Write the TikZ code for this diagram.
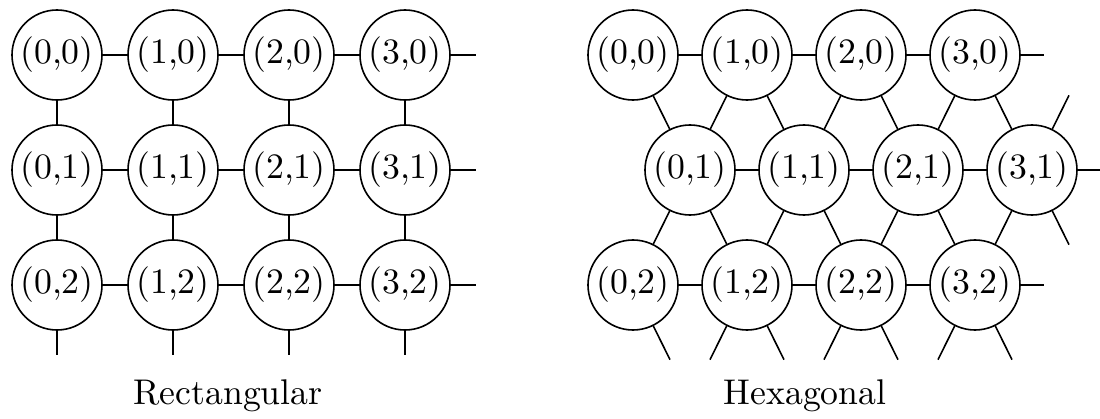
\documentclass[tikz,border=0pt]{standalone}
\usetikzlibrary{positioning}

\begin{document}
\begin{tikzpicture}[x=0.28pt, y=-0.28pt, line width=0.45pt]
\tikzset{pe/.style={draw, circle, minimum size=25.2pt, inner sep=0pt, font=\normalsize}, stub/.style={shorten >=12.6pt}, caption/.style={anchor=base, font=\normalsize}}
\useasboundingbox (0,0) rectangle (1100,419);
% rectangular mesh
\node[pe] (R00) at (57,55) {(0,0)}; \node[pe] (R10) at (173,55) {(1,0)}; \node[pe] (R20) at (289,55) {(2,0)}; \node[pe] (R30) at (405,55) {(3,0)};
\node[pe] (R01) at (57,170) {(0,1)}; \node[pe] (R11) at (173,170) {(1,1)}; \node[pe] (R21) at (289,170) {(2,1)}; \node[pe] (R31) at (405,170) {(3,1)};
\node[pe] (R02) at (57,285) {(0,2)}; \node[pe] (R12) at (173,285) {(1,2)}; \node[pe] (R22) at (289,285) {(2,2)}; \node[pe] (R32) at (405,285) {(3,2)};
\coordinate (R40) at (521,55); \coordinate (R41) at (521,170); \coordinate (R42) at (521,285);
\coordinate (R03) at (57,400); \coordinate (R13) at (173,400); \coordinate (R23) at (289,400); \coordinate (R33) at (405,400);
\draw (R00) -- (R10); \draw (R10) -- (R20); \draw (R20) -- (R30); \draw[stub] (R30) -- (R40);
\draw (R01) -- (R11); \draw (R11) -- (R21); \draw (R21) -- (R31); \draw[stub] (R31) -- (R41);
\draw (R02) -- (R12); \draw (R12) -- (R22); \draw (R22) -- (R32); \draw[stub] (R32) -- (R42);
\draw (R00) -- (R01); \draw (R01) -- (R02); \draw[stub] (R02) -- (R03);
\draw (R10) -- (R11); \draw (R11) -- (R12); \draw[stub] (R12) -- (R13);
\draw (R20) -- (R21); \draw (R21) -- (R22); \draw[stub] (R22) -- (R23);
\draw (R30) -- (R31); \draw (R31) -- (R32); \draw[stub] (R32) -- (R33);
\node[caption] (RL) at (228,405) {Rectangular};
% hexagonal mesh
\node[pe] (H00) at (633,55) {(0,0)}; \node[pe] (H10) at (747,55) {(1,0)}; \node[pe] (H20) at (861,55) {(2,0)}; \node[pe] (H30) at (975,55) {(3,0)};
\node[pe] (H01) at (690,170) {(0,1)}; \node[pe] (H11) at (804,170) {(1,1)}; \node[pe] (H21) at (918,170) {(2,1)}; \node[pe] (H31) at (1032,170) {(3,1)};
\node[pe] (H02) at (633,285) {(0,2)}; \node[pe] (H12) at (747,285) {(1,2)}; \node[pe] (H22) at (861,285) {(2,2)}; \node[pe] (H32) at (975,285) {(3,2)};
\coordinate (H40) at (1089,55); \coordinate (H41) at (1146,170); \coordinate (H42) at (1089,285);
\coordinate (H03) at (690,400); \coordinate (H13) at (804,400); \coordinate (H23) at (918,400); \coordinate (H33) at (1032,400);
\draw (H00) -- (H10); \draw (H10) -- (H20); \draw (H20) -- (H30); \draw[stub] (H30) -- (H40);
\draw (H01) -- (H11); \draw (H11) -- (H21); \draw (H21) -- (H31); \draw[stub] (H31) -- (H41);
\draw (H02) -- (H12); \draw (H12) -- (H22); \draw (H22) -- (H32); \draw[stub] (H32) -- (H42);
\draw (H00) -- (H01); \draw (H10) -- (H01); \draw (H10) -- (H11); \draw (H20) -- (H11); \draw (H20) -- (H21); \draw (H30) -- (H21); \draw (H30) -- (H31);
\draw[stub] (H31) -- (H40);
\draw (H01) -- (H02); \draw (H01) -- (H12); \draw (H11) -- (H12); \draw (H11) -- (H22); \draw (H21) -- (H22); \draw (H21) -- (H32); \draw (H31) -- (H32);
\draw[stub] (H31) -- (H42);
\draw[stub] (H02) -- (H03); \draw[stub] (H12) -- (H03); \draw[stub] (H12) -- (H13); \draw[stub] (H22) -- (H13); \draw[stub] (H22) -- (H23); \draw[stub] (H32) -- (H23); \draw[stub] (H32) -- (H33);
\node[caption] (HL) at (805,405) {Hexagonal};
\end{tikzpicture}
\end{document}
